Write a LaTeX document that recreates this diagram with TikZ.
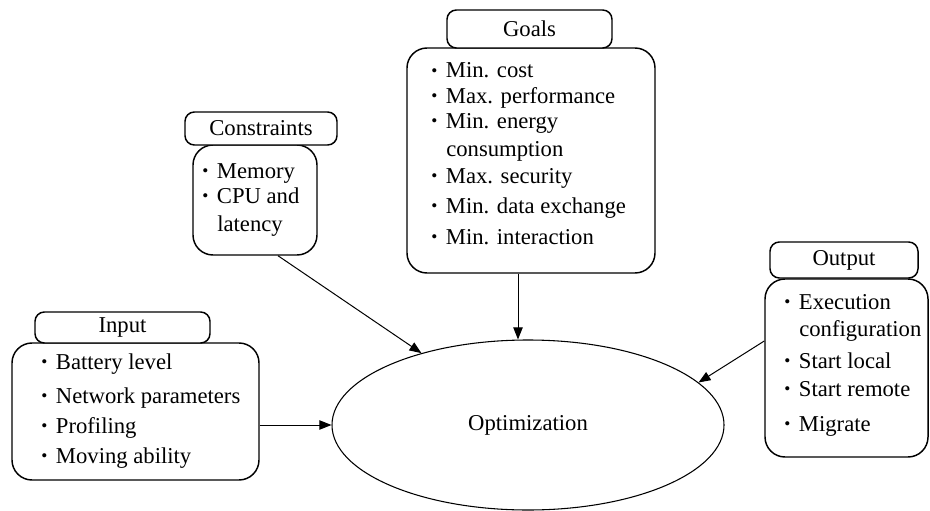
\documentclass[tikz,border=0pt]{standalone}
\usepackage{fontspec}
\setmainfont{Liberation Serif}
\usetikzlibrary{shapes.geometric,arrows.meta}

% bullet used in the lists, followed by a fixed gap
\newcommand{\itembul}{\makebox[11pt][l]{\raisebox{1.2pt}{\fontsize{13}{13}\selectfont\textbullet}}}

\tikzset{
  txt/.style={font=\fontsize{17}{20}\selectfont},
  hdr/.style={txt, draw, line width=1.1pt, rounded corners=7pt, inner sep=0pt},
  body/.style={draw, line width=1.1pt, rounded corners=15pt, inner sep=0pt},
  li/.style={txt, anchor=base west, inner sep=0pt},
  conn/.style={line width=0.75pt, -{Triangle[length=9pt,width=7pt]}},
}

\begin{document}
\begin{tikzpicture}[x=0.75pt,y=-0.75pt]
\useasboundingbox (0,0) rectangle (930,510);

% central process
\node[ellipse, draw, line width=0.8pt, minimum width=0.75*392pt, minimum height=0.75*170pt, txt] (opt) at (528,425) {Optimization};

% Goals
\node[body, minimum width=0.75*248pt, minimum height=0.75*225pt] (gbody) at (531,160.5) {};
\node[hdr, minimum width=0.75*165pt, minimum height=0.75*38pt, fill=white] (ghead) at (529.5,29) {Goals};
\node[li] (g1) at (431,78) {\itembul Min. cost};
\node[li] (g2) at (431,103) {\itembul Max. performance};
\node[li] (g3) at (431,128) {\itembul Min. energy};
\node[li] (g3b) at (446,156) {consumption};
\node[li] (g4) at (431,183) {\itembul Max. security};
\node[li] (g5) at (431,213) {\itembul Min. data exchange};
\node[li] (g6) at (431,244) {\itembul Min. interaction};

% Constraints
\node[body, minimum width=0.75*124pt, minimum height=0.75*110pt] (cbody) at (255,200) {};
\node[hdr, minimum width=0.75*152pt, minimum height=0.75*33pt, fill=white] (chead) at (261,128.5) {Constraints};
\node[li] (c1) at (202,178) {\itembul Memory};
\node[li] (c2) at (202,203) {\itembul CPU and};
\node[li] (c2b) at (217,231) {latency};

% Input
\node[body, minimum width=0.75*247pt, minimum height=0.75*137pt] (ibody) at (135.5,411.5) {};
\node[hdr, minimum width=0.75*175pt, minimum height=0.75*31pt, fill=white] (ihead) at (122.5,327.5) {Input};
\node[li] (i1) at (41,369) {\itembul Battery level};
\node[li] (i2) at (41,403) {\itembul Network parameters};
\node[li] (i3) at (41,433) {\itembul Profiling};
\node[li] (i4) at (41,463) {\itembul Moving ability};

% Output
\node[body, minimum width=0.75*163pt, minimum height=0.75*178pt] (obody) at (846.5,368) {};
\node[hdr, minimum width=0.75*148pt, minimum height=0.75*36pt, fill=white] (ohead) at (844,260) {Output};
\node[li] (o1) at (784,309) {\itembul Execution};
\node[li] (o1b) at (799,336) {configuration};
\node[li] (o2) at (784,368) {\itembul Start local};
\node[li] (o3) at (784,396) {\itembul Start remote};
\node[li] (o4) at (784,431) {\itembul Migrate};

% connectors into the optimization step
\draw[conn] ([xshift=0.75*23pt]cbody.south) -- (opt.146);
\draw[conn] ([xshift=-0.75*13pt]gbody.south) -- ([xshift=-0.75*13pt]gbody.south |- opt.north);
\draw[conn] (ibody.east |- opt.west) -- (opt.west);
\draw[conn] ([yshift=0.75*27pt]obody.west) -- (opt.14);
\end{tikzpicture}
\end{document}
